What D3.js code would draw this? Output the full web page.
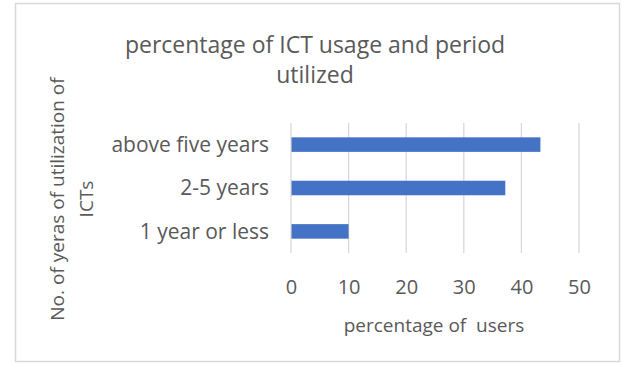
<!DOCTYPE html>
<html>
<head>
<meta charset="utf-8">
<script src="https://cdn.jsdelivr.net/npm/d3@7"></script>
<style>
  html, body { margin: 0; padding: 0; background: #fff; }
  svg { display: block; font-family: "Open Sans", "Noto Sans", sans-serif; }
</style>
</head>
<body>
<svg id="chart" width="622" height="365"></svg>
<script>
// Share of ICT users by how long they have used ICTs
const categories = ["1 year or less", "2-5 years", "above five years"];
const values = [10, 37.2, 43.3];
const xTicks = [0, 10, 20, 30, 40, 50];

const titleLines = ["percentage of ICT usage and period", "utilized"];
const xTitle = "percentage of  users";
const yTitleLines = ["No. of yeras of utilization of", "ICTs"];

const svg = d3.select("#chart");
const textColor = "#595959";
const font = "\"Open Sans\", sans-serif";

// outer chart frame
svg.append("rect")
  .attr("x", 15.5).attr("y", 3.5)
  .attr("width", 604).attr("height", 358)
  .attr("fill", "#fff")
  .attr("stroke", "#d9d9d9").attr("stroke-width", 1.5);

const plot = { left: 291, right: 579, top: 123, bottom: 253 };

const x = d3.scaleLinear().domain([0, 50]).range([plot.left, plot.right]);
const y = d3.scaleBand()
  .domain(categories.slice().reverse())
  .range([plot.top, plot.bottom])
  .paddingInner(0.665).paddingOuter(0.33);

// vertical gridlines
svg.append("g")
  .selectAll("line")
  .data(xTicks)
  .join("line")
  .attr("x1", d => x(d)).attr("x2", d => x(d))
  .attr("y1", plot.top).attr("y2", plot.bottom)
  .attr("stroke", "#d9d9d9").attr("stroke-width", 1.3);

// bars
svg.append("g")
  .selectAll("rect")
  .data(categories)
  .join("rect")
  .attr("x", x(0) + 0.5)
  .attr("y", d => y(d))
  .attr("width", (d, i) => x(values[i]) - x(0) - 0.5)
  .attr("height", y.bandwidth())
  .attr("fill", "#4472c4");

// x axis tick labels
const xAxis = d3.axisBottom(x).tickValues(xTicks).tickSize(0).tickPadding(0);
const gx = svg.append("g")
  .attr("transform", `translate(0,${plot.bottom + 41})`)
  .call(xAxis);
gx.select(".domain").remove();
gx.selectAll("text")
  .attr("dy", 0)
  .attr("font-size", 20)
  .attr("font-family", font)
  .attr("fill", textColor);

// y axis category labels
const yAxis = d3.axisLeft(y).tickSize(0).tickPadding(22);
const gy = svg.append("g")
  .attr("transform", `translate(${plot.left},0)`)
  .call(yAxis);
gy.select(".domain").remove();
gy.selectAll("text")
  .attr("dy", "0.35em")
  .attr("font-size", 21)
  .attr("font-family", font)
  .attr("fill", textColor);

// title
svg.append("text")
  .attr("x", 315).attr("y", 53)
  .attr("text-anchor", "middle")
  .attr("font-size", 23)
  .attr("fill", textColor)
  .selectAll("tspan")
  .data(titleLines)
  .join("tspan")
  .attr("x", 315)
  .attr("dy", (d, i) => i === 0 ? 0 : 30)
  .text(d => d);

// x axis title
svg.append("text")
  .attr("x", 434).attr("y", 332)
  .attr("text-anchor", "middle")
  .attr("font-size", 19)
  .attr("fill", textColor)
  .attr("xml:space", "preserve")
  .style("white-space", "pre")
  .text(xTitle);

// y axis title (rotated, two lines)
svg.append("text")
  .attr("transform", "translate(64,199) rotate(-90)")
  .attr("text-anchor", "middle")
  .attr("font-size", 19)
  .attr("fill", textColor)
  .selectAll("tspan")
  .data(yTitleLines)
  .join("tspan")
  .attr("x", 0)
  .attr("dy", (d, i) => i === 0 ? 0 : 29)
  .text(d => d);
</script>
</body>
</html>
